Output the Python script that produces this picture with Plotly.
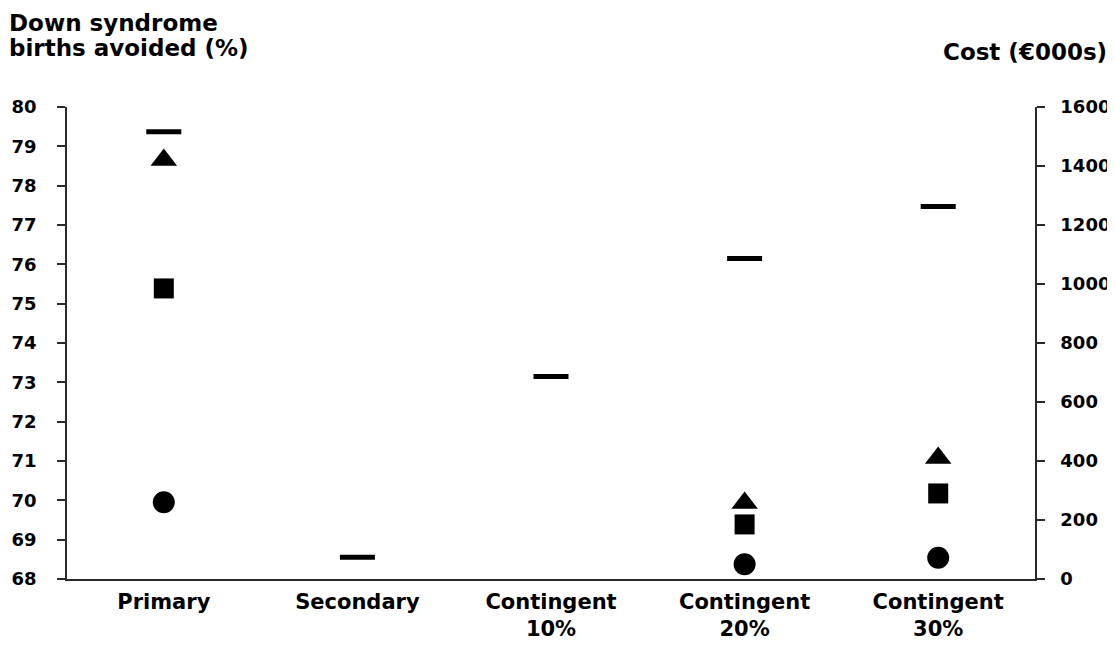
import plotly.graph_objects as go

categories = ["Primary", "Secondary", "Contingent<br>10%", "Contingent<br>20%", "Contingent<br>30%"]

# Down syndrome births avoided (%) - left axis (dash markers)
births_avoided = [79.37, 68.55, 73.15, 76.15, 77.47]

# Costs (EUR 000s) - right axis
cost_triangle = [1420, None, None, 258, 410]
cost_square = [985, None, None, 185, 290]
cost_circle = [260, None, None, 50, 72]

left_ticks = list(range(68, 81))
right_ticks = list(range(0, 1601, 200))

FONT = "DejaVu Sans"

fig = go.Figure()

fig.add_trace(go.Scatter(
    x=categories, y=births_avoided, mode="markers", yaxis="y",
    marker=dict(symbol="line-ew", size=25, color="black",
                line=dict(width=5, color="black")),
    showlegend=False, cliponaxis=False))

fig.add_trace(go.Scatter(
    x=categories, y=cost_triangle, mode="markers", yaxis="y2",
    marker=dict(symbol="triangle-up", size=23, color="black"),
    showlegend=False, cliponaxis=False))

fig.add_trace(go.Scatter(
    x=categories, y=cost_square, mode="markers", yaxis="y2",
    marker=dict(symbol="square", size=20, color="black"),
    showlegend=False, cliponaxis=False))

fig.add_trace(go.Scatter(
    x=categories, y=cost_circle, mode="markers", yaxis="y2",
    marker=dict(symbol="circle", size=22, color="black"),
    showlegend=False, cliponaxis=False))

tickfont = dict(family=FONT, size=18, color="black")
AX = "#2a2a2a"

fig.update_layout(
    width=1107, height=638,
    margin=dict(l=59, r=80, t=99, b=67),
    paper_bgcolor="white", plot_bgcolor="white",
    font=dict(family=FONT, color="black"),
    xaxis=dict(
        type="category", range=[-0.5, 4.5], automargin=False,
        tickvals=categories, ticktext=[f"<b>{c}</b>" for c in categories],
        showline=True, linecolor=AX, linewidth=1.5,
        showgrid=False, ticks="", zeroline=False, ticklabelstandoff=3,
        tickfont=dict(family=FONT, size=21, color="black"),
    ),
    yaxis=dict(
        range=[68, 80], tickvals=left_ticks, automargin=False,
        ticktext=[f"<b>{v}</b>" for v in left_ticks],
        showline=True, linecolor=AX, linewidth=1.5,
        ticks="outside", ticklen=8, tickwidth=1.5, tickcolor=AX,
        ticklabelstandoff=17,
        showgrid=False, zeroline=False, tickfont=tickfont,
    ),
    yaxis2=dict(
        range=[0, 1600], tickvals=right_ticks, automargin=False,
        ticktext=[f"<b>{v}</b>" for v in right_ticks],
        overlaying="y", side="right",
        showline=True, linecolor=AX, linewidth=1.5,
        ticks="outside", ticklen=8, tickwidth=1.5, tickcolor=AX,
        ticklabelstandoff=12,
        showgrid=False, zeroline=False, tickfont=tickfont,
    ),
    annotations=[
        dict(text="<b>Down syndrome</b>", xref="paper", yref="paper",
             x=0, xshift=-60, y=1, yshift=99, xanchor="left", yanchor="top",
             align="left", showarrow=False,
             font=dict(family=FONT, size=23, color="black")),
        dict(text="<b>births avoided (%)</b>", xref="paper", yref="paper",
             x=0, xshift=-60, y=1, yshift=74, xanchor="left", yanchor="top",
             align="left", showarrow=False,
             font=dict(family=FONT, size=23, color="black")),
        dict(text="<b>Cost (€000s)</b>", xref="paper", yref="paper",
             x=1, xshift=74, y=1, yshift=70, xanchor="right", yanchor="top",
             align="right", showarrow=False,
             font=dict(family=FONT, size=23, color="black")),
    ],
)

fig.write_html("out.html")
